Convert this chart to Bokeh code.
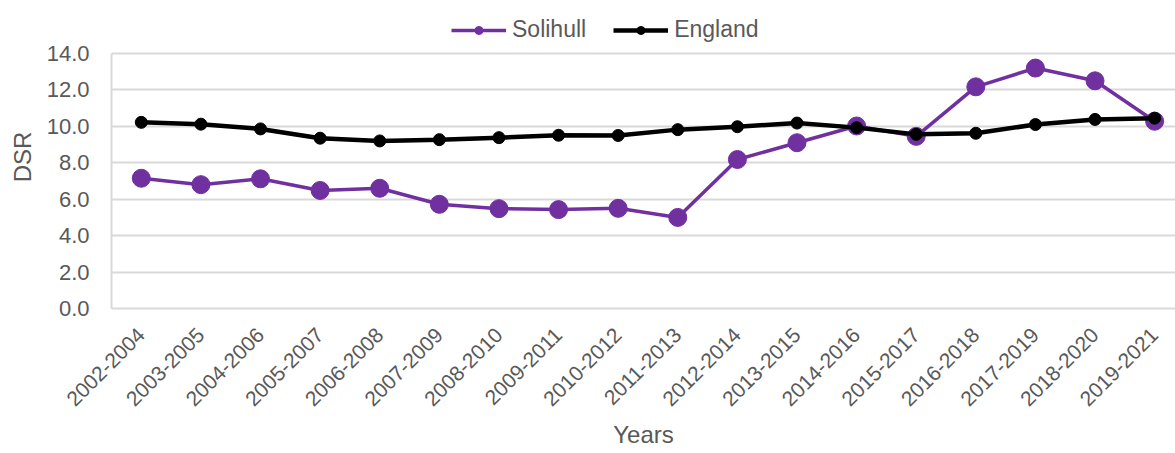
import math
from bokeh.plotting import figure
from bokeh.models import Range1d, FixedTicker, Legend, LegendItem, ColumnDataSource
from bokeh.embed import file_html
from bokeh.resources import INLINE

periods = ["2002-2004", "2003-2005", "2004-2006", "2005-2007", "2006-2008", "2007-2009",
           "2008-2010", "2009-2011", "2010-2012", "2011-2013", "2012-2014", "2013-2015",
           "2014-2016", "2015-2017", "2016-2018", "2017-2019", "2018-2020", "2019-2021"]
solihull = [7.15, 6.8, 7.12, 6.48, 6.6, 5.72, 5.48, 5.43, 5.5, 5.0, 8.18, 9.1,
            10.02, 9.45, 12.17, 13.2, 12.5, 10.28]
england = [10.22, 10.12, 9.86, 9.35, 9.2, 9.27, 9.38, 9.51, 9.5, 9.82, 9.98, 10.18,
           9.93, 9.56, 9.62, 10.1, 10.38, 10.45]
y_ticks = [0, 2, 4, 6, 8, 10, 12, 14]

idx = list(range(len(periods)))
src = ColumnDataSource(dict(x=idx, sol=solihull, eng=england))

FONT = "Liberation Sans"
GREY = "#595959"
PURPLE = "#7030A0"

# frame spans from y=5 to y=308 on screen; 14.0 sits at y=53
p = figure(width=1175, height=453, output_backend="svg", toolbar_location=None,
           x_range=Range1d(-0.5, 17.35), y_range=Range1d(0, 16.635),
           min_border_left=111, min_border_right=0, min_border_top=5, min_border_bottom=145)
p.outline_line_color = None

# axes
p.xaxis.ticker = FixedTicker(ticks=idx)
p.xaxis.major_label_overrides = {i: s for i, s in enumerate(periods)}
p.xaxis.major_label_orientation = math.pi / 4
p.xaxis.major_tick_line_color = None
p.xaxis.minor_tick_line_color = None
p.xaxis.axis_line_color = "#d9d9d9"
p.xaxis.axis_line_width = 2
p.xaxis.major_label_text_font = FONT
p.xaxis.major_label_text_font_size = "21px"
p.xaxis.major_label_text_color = GREY
p.xaxis.major_label_standoff = 17
p.xaxis.axis_label = "Years"
p.xaxis.axis_label_text_font = FONT
p.xaxis.axis_label_text_font_size = "24px"
p.xaxis.axis_label_text_font_style = "normal"
p.xaxis.axis_label_text_color = GREY
p.xaxis.axis_label_standoff = 6

p.yaxis.ticker = FixedTicker(ticks=y_ticks)
p.yaxis.bounds = (0, 14)
p.yaxis.major_label_overrides = {t: f"{t:.1f}" for t in y_ticks}
p.yaxis.major_tick_line_color = None
p.yaxis.minor_tick_line_color = None
p.yaxis.axis_line_color = "#d9d9d9"
p.yaxis.axis_line_width = 2
p.yaxis.major_label_text_font = FONT
p.yaxis.major_label_text_font_size = "22px"
p.yaxis.major_label_text_color = GREY
p.yaxis.major_label_standoff = 16
p.yaxis.axis_label = "DSR"
p.yaxis.axis_label_text_font = FONT
p.yaxis.axis_label_text_font_size = "24px"
p.yaxis.axis_label_text_font_style = "normal"
p.yaxis.axis_label_text_color = GREY
p.yaxis.axis_label_standoff = 8

p.xgrid.grid_line_color = None
p.ygrid.ticker = FixedTicker(ticks=y_ticks)
p.ygrid.grid_line_color = "#d9d9d9"
p.ygrid.grid_line_width = 2

# series
sl = p.line("x", "sol", source=src, line_color=PURPLE, line_width=3.5)
sc = p.scatter("x", "sol", source=src, size=18, fill_color=PURPLE, line_color=PURPLE)
el = p.line("x", "eng", source=src, line_color="black", line_width=4.5)
ec = p.scatter("x", "eng", source=src, size=12, fill_color="black", line_color="black")

legend = Legend(items=[LegendItem(label="Solihull", renderers=[sl, sc]),
                       LegendItem(label="England", renderers=[el, ec])],
                orientation="horizontal", location=(340, 265),
                label_text_font=FONT, label_text_font_size="23px",
                label_text_color=GREY, glyph_width=55, glyph_height=20,
                spacing=27, padding=2, margin=0, label_standoff=6,
                border_line_color=None, background_fill_alpha=0)
p.add_layout(legend, "center")

open("out.html", "w").write(file_html(p, INLINE))
